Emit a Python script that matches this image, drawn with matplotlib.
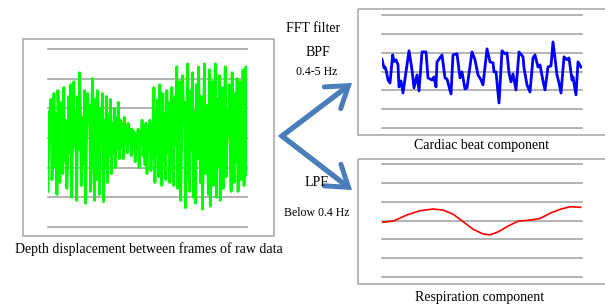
import numpy as np
import matplotlib
matplotlib.use("Agg")
import matplotlib.pyplot as plt
from matplotlib.patches import Rectangle
from matplotlib.lines import Line2D

# ---------------- data ----------------
raw_depth = [
    1.2, 3.9, 3.2, 4.3, 1.6, 2.4, 4.5, 2.0, 3.8, 1.1, 4.6, 3.7, 1.5, 4.2, 3.1, 1.8, 4.7, 2.2, 3.6, 1.3, 2.4, 4.4, 2.5, 4.8,
    1.0, 3.3, 4.9, 2.7, 3.9, 0.9, 4.4, 2.6, 5.2, 3.4, 1.4, 3.7, 2.1, 4.6, 0.8, 3.2, 4.5, 3.9, 4.1, 1.2, 3.5, 5.0, 2.3, 0.9, 4.3, 1.6,
    4.6, 2.8, 1.1, 4.0, 3.2, 4.5, 0.85, 3.6, 2.0, 4.4, 1.5, 3.8, 2.4, 4.3, 1.8, 3.5, 2.5, 4.0, 2.0, 3.7, 2.6, 4.2,
    2.3, 3.6, 2.7, 3.5, 2.3, 3.7, 2.8, 3.4, 2.5, 3.5, 2.9, 3.3, 2.4,
    3.3, 2.6, 3.2, 2.2, 3.1, 2.7, 3.3, 2.0, 3.2, 2.8, 3.6, 2.4,
    3.4, 2.1, 3.5, 1.8, 3.3, 2.6, 3.6, 1.9, 3.4, 2.3,
    4.7, 1.5, 3.9, 2.4, 4.3, 1.7, 4.8, 2.9, 1.4, 4.5, 2.2, 3.8, 1.6, 4.6, 2.5, 4.2, 1.5, 3.6, 4.7, 2.0, 1.4, 4.4, 2.8,
    5.4, 1.3, 3.7, 4.9, 0.9, 2.8, 5.1, 3.6, 4.2, 0.65, 3.3, 5.5, 2.1, 1.2, 4.6, 2.6, 5.2, 1.0, 3.9, 0.8,
    4.8, 2.3, 5.4, 3.5, 1.5, 4.4, 0.6, 2.9, 5.5, 1.8, 4.1, 3.1, 1.1, 5.3, 0.7, 2.5, 4.9, 1.4, 3.8, 5.5,
    1.0, 4.3, 2.0, 5.1, 0.9, 3.4, 4.7, 1.3, 2.7, 5.4, 1.7, 4.0, 3.1, 4.8, 2.4, 1.2, 5.2, 3.1, 1.5, 4.5,
    2.2, 5.0, 1.2, 3.9, 4.9, 1.6, 2.9, 5.3, 1.4, 4.6, 5.4, 1.75,
]

cardiac_t = [0, 2, 3, 4, 6, 8, 10.7, 12, 14, 16, 17, 19, 21, 24, 27, 30, 32, 35, 37, 40, 44, 46, 50, 52, 54,
             55, 60, 63, 65, 69, 71, 75, 78, 80, 83, 85, 90, 93, 96, 99, 101, 105, 108, 111, 112, 114, 117,
             120, 123, 125, 127, 129, 131, 134, 137, 141, 142, 145, 148, 151, 153, 156, 158, 161, 163, 166,
             169, 171, 175, 177, 179, 182, 185, 187, 190, 191, 194, 196, 199]
cardiac_v = [3.65, 3.19, 3.24, 3.09, 2.55, 2.39, 3.88, 3.53, 3.62, 3.35, 2.18, 2.50, 1.86, 2.98, 4.10, 3.09, 2.13,
             2.82, 1.97, 4.04, 4.04, 2.66, 2.55, 2.71, 2.18, 3.51, 3.88, 2.66, 2.60, 1.81, 3.88, 3.94, 2.66,
             2.98, 2.07, 2.13, 4.04, 3.62, 2.82, 2.55, 2.29, 4.20, 3.51, 3.46, 2.98, 2.98, 1.33, 4.10, 3.94,
             3.99, 2.93, 2.45, 2.87, 2.02, 4.04, 3.78, 3.19, 2.29, 1.91, 3.72, 3.88, 3.24, 3.35, 2.50, 2.02,
             3.24, 3.30, 4.57, 2.82, 2.39, 1.86, 3.78, 3.62, 3.72, 2.55, 2.71, 1.76, 3.51, 3.24]

resp_t = [0, 11.3, 24.7, 38, 51.3, 61.3, 71.3, 81.3, 91.3, 101.3, 108, 116.3, 126.3, 136.3, 148, 158, 168,
          178, 188, 198.7]
resp_v = [2.90, 2.97, 3.29, 3.52, 3.61, 3.55, 3.33, 2.93, 2.53, 2.28, 2.24, 2.40, 2.71, 2.97, 3.02, 3.11,
          3.38, 3.59, 3.73, 3.70]

grid_levels = [0, 1, 2, 3, 4, 5, 6]

captions = ["Depth displacement between frames of raw data", "Cardiac beat component", "Respiration component"]

# ---------------- layout ----------------
W, H = 605, 304
fig = plt.figure(figsize=(W / 100, H / 100), dpi=100)
fig.patch.set_facecolor("white")

ov = fig.add_axes([0, 0, 1, 1])
ov.set_xlim(0, W)
ov.set_ylim(H, 0)
ov.axis("off")

def px_axes(x0, y0, x1, y1):
    return fig.add_axes([x0 / W, 1 - y1 / H, (x1 - x0) / W, (y1 - y0) / H])

frame_col = "#a6a6a6"
grid_col = "#a6a6a6"
serif = ["Liberation Serif", "DejaVu Serif"]

# frames
for (x0, y0, x1, y1) in [(22.5, 38.5, 274, 236), (357.5, 8.5, 612, 135), (357.5, 158.5, 612, 284)]:
    ov.add_patch(Rectangle((x0, y0), x1 - x0, y1 - y0, fill=False, edgecolor=frame_col, lw=1.1))

def style(ax, xmax):
    ax.set_xlim(0, xmax)
    ax.set_ylim(0, 6)
    ax.patch.set_alpha(0)
    for s in ax.spines.values():
        s.set_visible(False)
    ax.set_xticks([])
    ax.set_yticks([])
    for g in grid_levels:
        ax.axhline(g, color=grid_col, lw=1.2, zorder=1, clip_on=False)

# raw data panel
ax1 = px_axes(48, 49, 247, 227)
style(ax1, len(raw_depth) - 1)
ax1.plot(np.arange(len(raw_depth)), raw_depth, color="#00ff00", lw=2.0, zorder=3)

# cardiac panel
ax2 = px_axes(382, 15, 582, 128)
style(ax2, 200)
ax2.plot(cardiac_t, cardiac_v, color="#0000ff", lw=2.0, zorder=3)

# respiration panel
ax3 = px_axes(382, 164, 582, 277)
style(ax3, 200)
ax3.plot(resp_t, resp_v, color="#ff0000", lw=1.2, zorder=3)

# arrows
acol = "#4a7ebb"
ov.add_line(Line2D([346, 282, 346], [87.5, 136, 185.5], color=acol, lw=3.6,
                   solid_joinstyle="miter", solid_capstyle="butt"))
for tip in [(352, 83), (352, 190)]:
    ov.annotate("", xy=tip, xytext=(282, 136),
                arrowprops=dict(arrowstyle="->,head_length=0.72,head_width=0.49", lw=3.6, color=acol,
                                shrinkA=0, shrinkB=0, mutation_scale=20, joinstyle="miter"))

# texts
ov.text(149, 249, captions[0], ha="center", va="center", fontsize=10, family=serif)
ov.text(482, 146, captions[1], ha="center", va="center", fontsize=10, family=serif)
ov.text(480, 297, captions[2], ha="center", va="center", fontsize=10, family=serif)
ov.text(313, 28, "FFT filter", ha="center", va="center", fontsize=10, family=serif)
ov.text(318, 53, "BPF", ha="center", va="center", fontsize=10, family=serif)
ov.text(317, 72, "0.4-5 Hz", ha="center", va="center", fontsize=8.5, family=serif)
ov.text(317, 183, "LPF", ha="center", va="center", fontsize=10, family=serif)
ov.text(317, 213, "Below 0.4 Hz", ha="center", va="center", fontsize=8.5, family=serif)

fig.savefig("out.png", dpi=100, facecolor="white")
